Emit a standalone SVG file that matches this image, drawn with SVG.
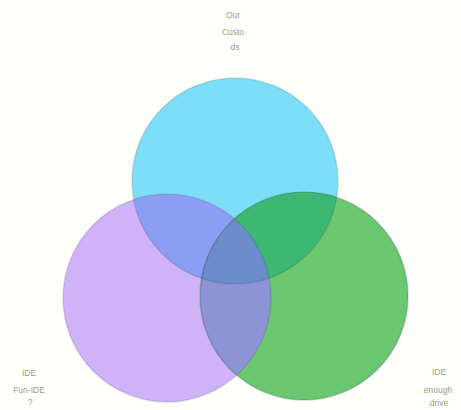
<svg xmlns="http://www.w3.org/2000/svg" width="461" height="410" viewBox="0 0 461 410">
<style>
.lbl{font-family:"Liberation Sans",Arial,sans-serif;font-size:8.5px;fill:#a29c78;text-anchor:middle}
.edge{fill:none;stroke-width:1.6;stroke:#1a2a40;stroke-opacity:0.13}
</style>
<defs>
<clipPath id="cT"><circle cx="235" cy="181" r="103"/></clipPath>
<clipPath id="cL"><circle cx="167" cy="298" r="104"/></clipPath>
<clipPath id="cR"><circle cx="304" cy="296" r="104"/></clipPath>
</defs>
<rect width="461" height="410" fill="#fefffb"/>
<g id="circle-top">
<circle cx="235" cy="181" r="103" fill="#7ddff7"/>
</g>
<g id="circle-left">
<circle cx="167" cy="298" r="104" fill="#cfb2f7"/>
</g>
<g id="circle-right">
<circle cx="304" cy="296" r="104" fill="#6cc870"/>
</g>
<g id="overlaps">
<g clip-path="url(#cT)"><circle cx="167" cy="298" r="104" fill="#8a9ef3"/></g>
<g clip-path="url(#cT)"><circle cx="304" cy="296" r="104" fill="#3db872"/></g>
<g clip-path="url(#cL)"><circle cx="304" cy="296" r="104" fill="#8d94d6"/></g>
<g clip-path="url(#cT)"><g clip-path="url(#cL)"><circle cx="304" cy="296" r="104" fill="#6d8cca"/></g></g>
</g>
<g id="edges">
<circle class="edge" cx="235" cy="181" r="103"/>
<circle class="edge" cx="167" cy="298" r="104"/>
<circle class="edge" cx="304" cy="296" r="104" style="stroke-opacity:0.2"/>
</g>
<g id="label-top">
<text class="lbl" x="233" y="18">Our</text>
<text class="lbl" x="233" y="35">Custo</text>
<text class="lbl" x="235" y="50">ds</text>
</g>
<g id="label-left">
<text class="lbl" x="29" y="376">IDE</text>
<text class="lbl" x="29" y="393">Fun-IDE</text>
<text class="lbl" x="30" y="405">?</text>
</g>
<g id="label-right">
<text class="lbl" x="439" y="375">IDE</text>
<text class="lbl" x="438" y="393">enough</text>
<text class="lbl" x="439" y="406">drive</text>
</g>
</svg>
